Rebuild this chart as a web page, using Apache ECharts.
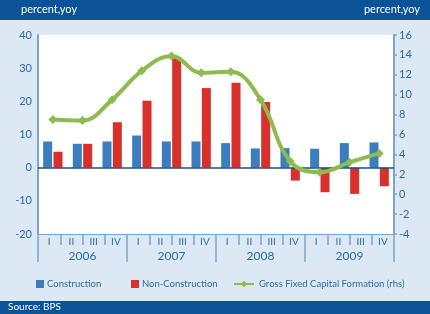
<!DOCTYPE html>
<html>
<head>
<meta charset="utf-8">
<script src="https://cdn.jsdelivr.net/npm/echarts@6/dist/echarts.min.js"></script>
<style>
  html, body { margin: 0; padding: 0; background: #dce9f5; }
  #chart { width: 430px; height: 314px; }
</style>
</head>
<body>
<div id="chart"></div>
<script>
// 12 data points, drawn over a 16-quarter label axis (as in the source chart)
const points = ['1', '2', '3', '4', '5', '6', '7', '8', '9', '10', '11', '12'];
const quarters = ['I', 'II', 'III', 'IV', 'I', 'II', 'III', 'IV', 'I', 'II', 'III', 'IV', 'I', 'II', 'III', 'IV'];
const years = ['2006', '2007', '2008', '2009'];

const construction = [7.9, 7.2, 7.9, 9.7, 7.9, 7.9, 7.4, 5.8, 5.9, 5.7, 7.4, 7.6];
const nonConstruction = [4.8, 7.2, 13.7, 20.2, 33.0, 24.0, 25.6, 19.8, -3.9, -7.4, -7.9, -5.6];
const gfcf = [7.5, 7.4, 9.5, 12.4, 13.9, 12.2, 12.3, 9.5, 3.3, 2.2, 3.2, 4.1];

const blue = '#3b7dbf', red = '#d8302b', green = '#8dbb4d';
const txt = '#2a6aa8', axisBlue = '#7aa5cd';
const font = 'Lato';

let chart = echarts.init(document.getElementById('chart'));

function legendAt(name, left, w) {
  return {
    data: [name], left: left, top: 279, padding: 0,
    itemWidth: w, itemHeight: 8, itemGap: 0,
    textStyle: { color: txt, fontSize: 9.5, fontFamily: font, padding: [0, 0, 0, -2] }
  };
}

let option = {
  backgroundColor: '#dce9f5',
  textStyle: { fontFamily: font },
  graphic: [
    { type: 'rect', shape: { x: 0, y: 0, width: 430, height: 20 }, style: { fill: '#0b5396' }, z: 0 },
    { type: 'rect', shape: { x: 0, y: 301, width: 430, height: 13 }, style: { fill: '#0b5396' }, z: 0 }
  ],
  title: [
    { text: 'percent,yoy', left: 21, top: 4, padding: 0, textStyle: { color: '#fff', fontSize: 11, fontWeight: 'normal', fontFamily: font } },
    { text: 'percent,yoy', right: 10, top: 4, padding: 0, textStyle: { color: '#fff', fontSize: 11, fontWeight: 'normal', fontFamily: font } },
    { text: 'Source: BPS', left: 8, top: 302, padding: 0, textStyle: { color: '#fff', fontSize: 10, fontWeight: 'normal', fontFamily: font } }
  ],
  legend: [
    Object.assign(legendAt('Construction', 36, 8), { icon: 'rect' }),
    Object.assign(legendAt('Non-Construction', 131, 8), { icon: 'rect' }),
    Object.assign(legendAt('Gross Fixed Capital Formation (rhs)', 233, 20), { textStyle: { color: txt, fontSize: 9.5, fontFamily: font, padding: [0, 0, 0, 0] } })
  ],
  grid: { left: 38, right: 36, top: 35, bottom: 80, show: true, backgroundColor: '#fff', borderWidth: 0 },
  xAxis: [
    { type: 'category', data: points, show: false },
    {
      type: 'category', data: quarters, position: 'bottom',
      axisLine: { show: true, onZero: false, lineStyle: { color: axisBlue, width: 1 } },
      axisTick: { show: true, interval: 0, length: 11, lineStyle: { color: axisBlue, width: 1.5 } },
      axisLabel: { color: txt, fontSize: 10, margin: 3, interval: 0 }
    },
    {
      type: 'category', data: years, position: 'bottom',
      axisLine: { show: false, onZero: false },
      axisTick: { show: true, interval: 0, length: 28, lineStyle: { color: axisBlue, width: 1.5 } },
      axisLabel: { color: txt, fontSize: 12, margin: 16, interval: 0 }
    }
  ],
  yAxis: [
    {
      type: 'value', min: -20, max: 40, interval: 10,
      axisLine: { show: true, lineStyle: { color: axisBlue, width: 2 } },
      axisTick: { show: false },
      splitLine: { show: false },
      axisLabel: { color: txt, fontSize: 11, margin: 6 }
    },
    {
      type: 'value', min: -4, max: 16, interval: 2, position: 'right',
      axisLine: { show: true, lineStyle: { color: axisBlue, width: 2 } },
      axisTick: { show: true, length: 3, lineStyle: { color: axisBlue, width: 1.5 } },
      splitLine: { show: false },
      axisLabel: { color: txt, fontSize: 11, margin: 5 }
    }
  ],
  series: [
    {
      name: 'Construction', type: 'bar', xAxisIndex: 0, yAxisIndex: 0,
      data: construction, barWidth: 9, barGap: '15%',
      itemStyle: { color: blue },
      markLine: {
        silent: true, symbol: 'none', label: { show: false },
        lineStyle: { color: '#1d4f80', width: 1.5, type: 'solid' },
        data: [{ yAxis: 0 }]
      }
    },
    {
      name: 'Non-Construction', type: 'bar', xAxisIndex: 0, yAxisIndex: 0,
      data: nonConstruction, barWidth: 9,
      itemStyle: { color: red }
    },
    {
      name: 'Gross Fixed Capital Formation (rhs)', type: 'line', xAxisIndex: 0, yAxisIndex: 1,
      data: gfcf, smooth: 0.4,
      symbol: 'diamond', symbolSize: 9,
      lineStyle: { color: green, width: 4 },
      itemStyle: { color: green },
      z: 5
    }
  ]
};

option && chart.setOption(option, true);
</script>
</body>
</html>
